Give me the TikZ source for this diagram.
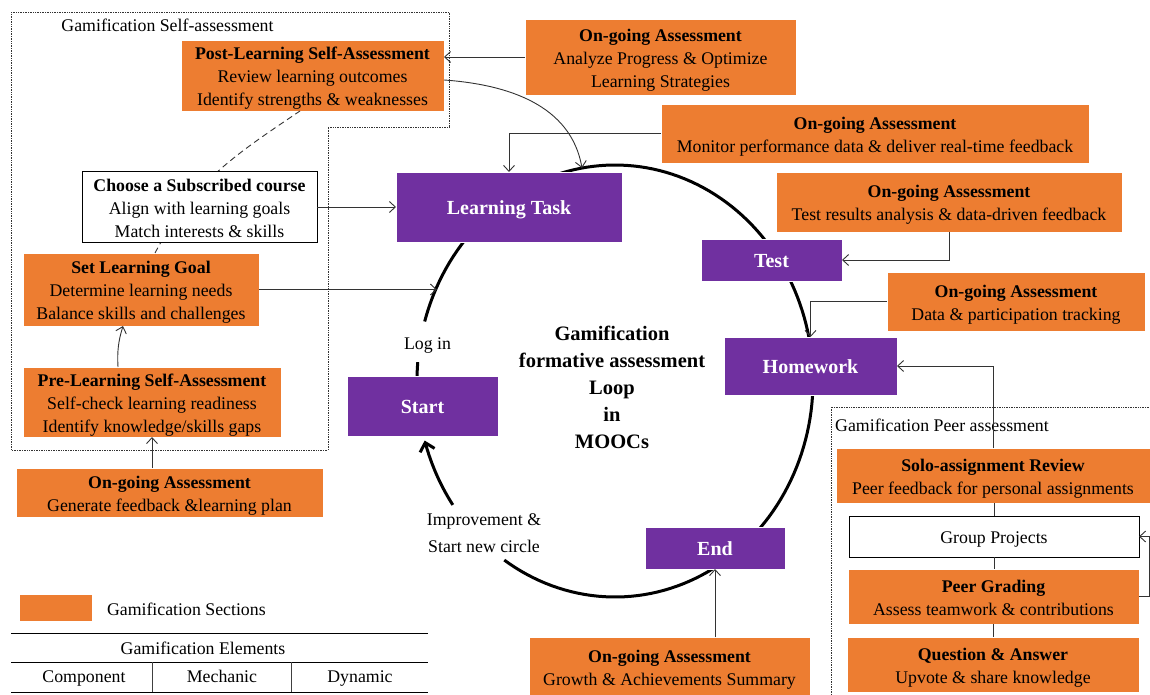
\documentclass[tikz,border=0pt]{standalone}
\usepackage{fontspec}
\setmainfont{Liberation Serif}
\usetikzlibrary{arrows.meta,calc}
\definecolor{gamorange}{HTML}{ED7D31}
\definecolor{gampurple}{HTML}{7030A0}
% extra room above the first line of a box
\newcommand{\topgap}{\rule{0pt}{18.5pt}}

\tikzset{
  body/.style={font=\fontsize{17.8}{23}\selectfont, align=center},
  boxtext/.style={body, text depth=4pt},
  sect/.style={boxtext, fill=gamorange, draw=white, line width=0.6pt},
  plain/.style={boxtext, fill=white, draw=black, line width=1pt},
  stage/.style={fill=gampurple, draw=white, line width=0.6pt, text=white,
                text height=19pt, text depth=4pt,
                font=\fontsize{20}{24}\selectfont\bfseries},
  link/.style={draw=black!80, line width=0.9pt},
  arr/.style={link, -{Straight Barb[length=6pt,width=11pt]}},
  loopline/.style={line width=3pt, black},
  frame/.style={draw=black!80, line width=0.7pt, dash pattern=on 0.8pt off 0.9pt}
}

\begin{document}
\begin{tikzpicture}[x=1pt,y=-1pt, every node/.style={inner sep=0pt, outer sep=0pt}]
\useasboundingbox (0,0) rectangle (1150,695);

% group frames
\draw[frame] (11,12) -- (449,12) -- (449,127) -- (328,127) -- (328,450) -- (11,450) -- cycle;
\draw[frame] (831,700) -- (831,407) -- (1155,407);
\node[body, anchor=base] (selflbl) at (167.5,31.5) {Gamification Self-assessment};
\node[body, anchor=base] (peerlbl) at (942,431.5) {Gamification Peer assessment};

% the assessment loop
\draw[loopline] plot[domain=-164:124, samples=150] ({615+198*cos(\x)},{381+216*sin(\x)});
\draw[loopline] plot[domain=-185:-175, samples=10] ({615+198*cos(\x)},{381+216*sin(\x)});
\draw[loopline, -{Straight Barb[length=8pt,width=15pt]}]
  plot[domain=145:164, samples=20] ({615+198*cos(\x)},{381+216*sin(\x)});

\node[font=\fontsize{20.5}{27}\selectfont\bfseries, align=center] (title) at (612,387)
  {Gamification\\formative assessment\\Loop\\in\\MOOCs};
\node[body, anchor=base] (login) at (427.5,349) {Log in};
\node[font=\fontsize{17.8}{26.5}\selectfont, align=center] (improve) at (484,533)
  {Improvement \&\\Start new circle};

% self-assessment sections
\node[sect, minimum width=263pt, minimum height=71pt] (post) at (312.5,75.5)
  {\topgap{\bfseries Post-Learning Self-Assessment}\\Review learning outcomes\\Identify strengths \& weaknesses};
\node[sect, minimum width=236pt, minimum height=73pt] (goal) at (141,289.5)
  {\topgap{\bfseries Set Learning Goal}\\Determine learning needs\\Balance skills and challenges};
\draw[link, dash pattern=on 6pt off 4pt] ([xshift=14pt]goal.north) to[out=62,in=214] ([xshift=-12.5pt]post.south);
\node[plain, minimum width=235pt, minimum height=70pt] (choose) at (199.5,207)
  {\topgap{\bfseries Choose a Subscribed course}\\Align with learning goals\\Match interests \& skills};
\node[sect, minimum width=258pt, minimum height=70pt] (pre) at (152,402)
  {\topgap{\bfseries Pre-Learning Self-Assessment}\\Self-check learning readiness\\Identify knowledge/skills gaps};
\node[sect, minimum width=307pt, minimum height=49pt] (og1) at (169.5,492.5)
  {\topgap{\bfseries On-going Assessment}\\Generate feedback \&learning plan};

% stages of the loop
\node[stage, minimum width=226pt, minimum height=70pt] (task) at (509,207) {Learning Task};
\node[stage, minimum width=141pt, minimum height=42pt] (test) at (771.5,260) {Test};
\node[stage, minimum width=173pt, minimum height=58pt] (hw) at (810.5,366) {Homework};
\node[stage, minimum width=151pt, minimum height=60pt] (start) at (422.5,406) {Start};
\node[stage, minimum width=140pt, minimum height=42pt] (end) at (715,548) {End};

% on-going assessments
\node[sect, minimum width=271pt, minimum height=76pt] (og2) at (660.5,57)
  {\topgap{\bfseries On-going Assessment}\\Analyze Progress \& Optimize\\Learning Strategies};
\node[sect, minimum width=428pt, minimum height=59pt] (og3) at (875,133.5)
  {\topgap{\bfseries On-going Assessment}\\Monitor performance data \& deliver real-time feedback};
\node[sect, minimum width=346pt, minimum height=60pt] (og4) at (949,202)
  {\topgap{\bfseries On-going Assessment}\\Test results analysis \& data-driven feedback};
\node[sect, minimum width=258pt, minimum height=59pt] (og5) at (1016,301.5)
  {\topgap{\bfseries On-going Assessment}\\Data \& participation tracking};
\node[sect, minimum width=281pt, minimum height=60pt] (og6) at (669.5,667)
  {\topgap{\bfseries On-going Assessment}\\Growth \& Achievements Summary};

% peer assessment sections
\node[sect, minimum width=314pt, minimum height=55pt] (solo) at (993,475.5)
  {\topgap{\bfseries Solo-assignment Review}\\Peer feedback for personal assignments};
\node[plain, minimum width=290pt, minimum height=41pt] (group) at (994,536.5) {\topgap Group Projects};
\node[sect, minimum width=291pt, minimum height=55pt] (grading) at (993.5,596.5)
  {\topgap{\bfseries Peer Grading}\\Assess teamwork \& contributions};
\node[sect, minimum width=292pt, minimum height=55pt] (qa) at (993,664.5)
  {\topgap{\bfseries Question \& Answer}\\Upvote \& share knowledge};

% connectors
\coordinate (loopL) at (437,289.5);
\draw[arr] (og2.west) -- (og2.west -| post.east);
\draw[arr] ([yshift=-4.5pt]post.east) to[out=-4,in=100] ([xshift=73pt,yshift=4pt]task.north);
\draw[arr] (og3.west) -| (task.north);
\draw[arr] (og4.south) |- (test.east);
\draw[arr] (og5.west) -| (hw.north);
\draw[arr] (solo.north) |- (hw.east);
\draw[link] (solo.south -| group.north) -- (group.north);
\draw[link] (group.south) -- (group.south |- grading.north);
\draw[link] (grading.south) -- (grading.south |- qa.north);
\draw[arr] (grading.east) -- ++(10,0) |- (group.east);
\draw[arr] (og6.north -| end.south) -- (end.south);
\draw[arr] (og1.north -| pre.south) -- (pre.south);
\draw[arr] ([xshift=-34pt]pre.north) to[bend left=10] ([xshift=-18pt]goal.south);
\draw[arr] (choose.east) -- (task.west);
\draw[arr] (goal.east) -- (loopL);

% legend and element table
\node[fill=gamorange, minimum width=72pt, minimum height=26pt] (legsw) at (56,608) {};
\node[body, anchor=base west] (legtx) at (107,615) {Gamification Sections};
\draw[line width=1pt] (11,633) -- (428,633);
\draw[line width=1pt] (11,662) -- (428,662);
\draw[line width=1pt] (11,692) -- (428,692);
\draw[line width=1pt, black!75] (152,662) -- (152,692);
\draw[line width=1pt, black!75] (291,662) -- (291,692);
\node[body, anchor=base] (elems) at (203,654) {Gamification Elements};
\node[body, anchor=base] (comp) at (84,682) {Component};
\node[body, anchor=base] (mech) at (222,682) {Mechanic};
\node[body, anchor=base] (dyn) at (360,682) {Dynamic};
\end{tikzpicture}
\end{document}
